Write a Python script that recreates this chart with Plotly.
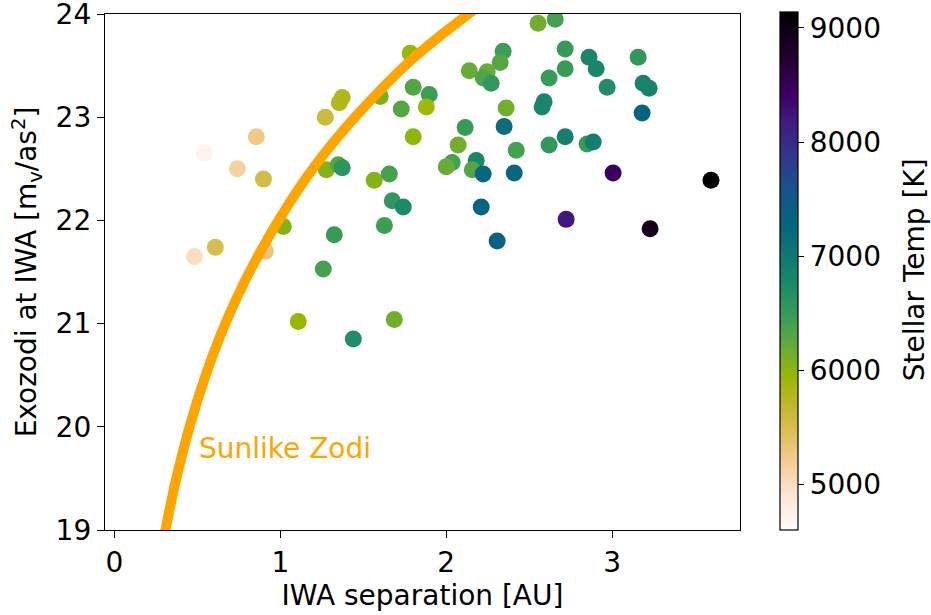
import plotly.graph_objects as go

# ---- data ----
iwa_sep = [0.542, 0.855, 0.741, 0.898, 1.271, 1.355, 1.373, 1.277, 1.349, 1.373,
           1.018, 0.910, 0.608, 0.482, 1.325, 1.259, 1.108, 1.440, 1.687, 2.554,
           2.657, 1.783, 2.343, 2.325, 2.139, 2.247, 2.223, 2.271, 2.717, 2.717,
           2.620, 2.590, 2.578, 1.602, 1.801, 1.898, 1.880, 1.729, 2.361, 2.349,
           2.114, 1.801, 2.072, 2.422, 2.620, 2.717, 2.036, 2.000, 2.181, 2.157,
           2.223, 2.410, 1.566, 1.657, 1.675, 1.741, 2.211, 2.723, 1.627, 2.307,
           2.861, 2.904, 2.970, 3.157, 3.187, 3.223, 3.181, 2.849, 2.886, 3.006,
           3.229, 3.596]
exozodi = [22.65, 22.81, 22.50, 22.40, 23.00, 23.14, 23.19, 22.49, 22.54, 22.51,
           21.94, 21.70, 21.74, 21.65, 21.86, 21.53, 21.02, 20.85, 21.04, 23.91,
           23.95, 23.62, 23.64, 23.53, 23.45, 23.44, 23.38, 23.33, 23.66, 23.47,
           23.38, 23.15, 23.10, 23.20, 23.29, 23.22, 23.10, 23.08, 23.09, 22.91,
           22.90, 22.81, 22.73, 22.68, 22.73, 22.81, 22.56, 22.52, 22.58, 22.49,
           22.45, 22.46, 22.39, 22.45, 22.19, 22.13, 22.13, 22.01, 21.95, 21.80,
           23.58, 23.47, 23.29, 23.58, 23.33, 23.28, 23.04, 22.74, 22.76, 22.46,
           21.92, 22.39]
stellar_temp = [4700, 5250, 5150, 5550, 5600, 5750, 5800, 6050, 6300, 6600,
                6050, 5300, 5500, 5000, 6500, 6400, 5950, 6700, 6150, 6150,
                6400, 5950, 6450, 6300, 6200, 6200, 6350, 6550, 6500, 6500,
                6500, 6800, 6800, 6100, 6300, 6450, 5900, 6300, 6150, 7150,
                6500, 6000, 6150, 6400, 6550, 6900, 6400, 6200, 6800, 6300,
                7250, 7250, 6050, 6400, 6550, 6750, 7300, 8200, 6450, 7350,
                6800, 6800, 6700, 6550, 6850, 6850, 7300, 6500, 6900, 8450,
                8900, 9140]

# Sunlike zodi curve
zodi_sep = [0.30, 0.34, 0.38, 0.46, 0.55, 0.64, 0.74, 0.84, 1.00, 1.20, 1.45, 1.80, 2.15, 2.30]
zodi_mag = [18.94, 19.26, 19.55, 20.04, 20.50, 20.89, 21.26, 21.58, 22.03, 22.51, 23.00, 23.57, 24.02, 24.20]

x_ticks = [0, 1, 2, 3]
y_ticks = [19, 20, 21, 22, 23, 24]
cbar_ticks = [5000, 6000, 7000, 8000, 9000]

T_MIN, T_MAX = 4600, 9140

# colour anchors (temperature, colour) sampled from the colour bar
cmap_anchor_T = [4600, 4900, 5100, 5300, 5500, 5700, 5950, 6200, 6450, 6750,
                 7000, 7300, 7600, 7900, 8200, 8400, 8700, 9140]
cmap_anchor_c = ["rgb(255,250,250)", "rgb(253,230,214)", "rgb(248,212,170)",
                 "rgb(236,198,122)", "rgb(216,190,78)", "rgb(192,182,40)",
                 "rgb(152,184,0)", "rgb(102,172,55)", "rgb(60,158,85)",
                 "rgb(28,138,105)", "rgb(15,120,115)", "rgb(5,100,128)",
                 "rgb(25,82,140)", "rgb(52,52,140)", "rgb(66,24,128)",
                 "rgb(62,0,105)", "rgb(38,0,52)", "rgb(0,0,0)"]
colorscale = [[(t - T_MIN) / (T_MAX - T_MIN), c] for t, c in zip(cmap_anchor_T, cmap_anchor_c)]

FONT = "DejaVu Sans"
FS = 28

fig = go.Figure()

fig.add_trace(go.Scatter(
    x=iwa_sep, y=exozodi, mode="markers",
    marker=dict(size=17, color=stellar_temp, colorscale=colorscale,
                cmin=T_MIN, cmax=T_MAX, line=dict(width=0),
                colorbar=dict(
                    thickness=18, x=1.063, xanchor="left", xpad=0,
                    y=1.004, yanchor="top", len=1.004, lenmode="fraction", ypad=0,
                    outlinewidth=1.2, outlinecolor="black",
                    ticks="outside", ticklen=6, tickwidth=1.2, tickcolor="black",
                    tickvals=cbar_ticks,
                    tickfont=dict(family=FONT, size=FS, color="black"),
                )),
    showlegend=False, hoverinfo="x+y",
))

fig.add_trace(go.Scatter(
    x=zodi_sep, y=zodi_mag, mode="lines",
    line=dict(color="#FFA500", width=10, shape="spline", smoothing=1.0),
    showlegend=False,
))

fig.add_annotation(x=0.50, y=19.79, text="Sunlike Zodi", showarrow=False,
                   xanchor="left", yanchor="middle",
                   font=dict(family=FONT, size=FS, color="#FFA500"))

# colour bar title
fig.add_annotation(xref="paper", yref="paper", x=1.276, y=0.504,
                   text="Stellar Temp [K]", textangle=-90, showarrow=False,
                   xanchor="center", yanchor="middle",
                   font=dict(family=FONT, size=FS, color="black"))

axis_common = dict(showline=True, mirror=True, linecolor="black", linewidth=1.3,
                   ticks="outside", ticklen=7, tickwidth=1.3, tickcolor="black",
                   showgrid=False, zeroline=False, ticklabeloverflow="allow",
                   tickfont=dict(family=FONT, size=FS, color="black"))

fig.update_xaxes(range=[-0.057, 3.771], tickvals=x_ticks,
                 title=dict(text="IWA separation [AU]", standoff=6,
                            font=dict(family=FONT, size=FS, color="black")),
                 **axis_common)
fig.update_yaxes(range=[19, 24], tickvals=y_ticks,
                 title=dict(text="Exozodi at IWA [m<sub>v</sub>/as<sup>2</sup>]", standoff=10,
                            font=dict(family=FONT, size=FS, color="black")),
                 **axis_common)

fig.update_layout(width=931, height=615,
                  margin=dict(l=105, r=191, t=14, b=85, autoexpand=False),
                  paper_bgcolor="white", plot_bgcolor="white",
                  font=dict(family=FONT, size=FS, color="black"))

fig.write_html("out.html", config={"displayModeBar": False},
               post_script="document.body.style.margin='0px';document.body.style.padding='0px';")
